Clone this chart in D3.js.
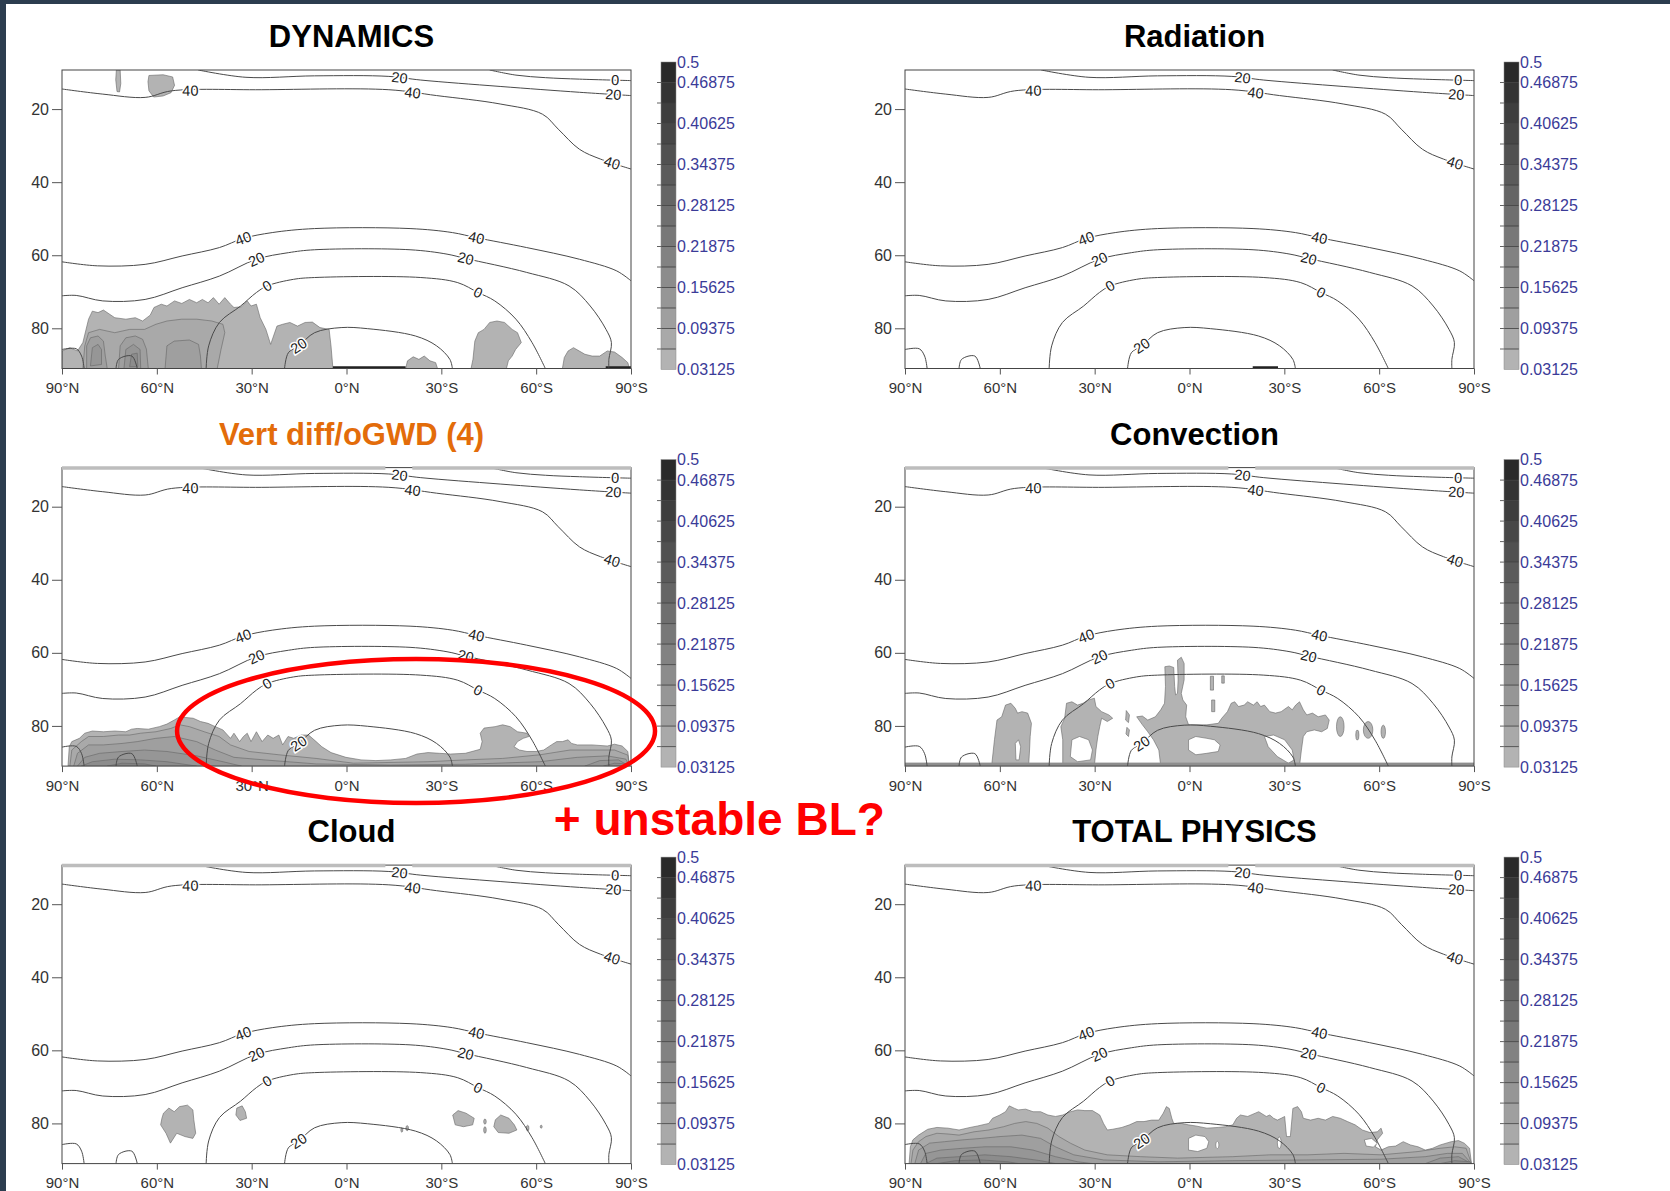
<!DOCTYPE html>
<html>
<head>
<meta charset="utf-8">
<script src="https://cdnjs.cloudflare.com/ajax/libs/d3/7.8.5/d3.min.js"></script>
<style>
  body { margin: 0; background: #fff; }
  svg { display: block; }
</style>
</head>
<body>
<svg id="chart" width="1670" height="1191"></svg>
<script>
// ---- data (lat in degrees, model level) ----
const panelTitles = ["DYNAMICS", "Radiation", "Vert diff/oGWD (4)", "Convection", "Cloud", "TOTAL PHYSICS"];
const latTicks = [90, 60, 30, 0, -30, -60, -90];
const latTickLabels = ["90°N", "60°N", "30°N", "0°N", "30°S", "60°S", "90°S"];
const levelTicks = [20, 40, 60, 80];
const levelDomain = [9.3, 91];
const cbarLevels = [0.03125, 0.0625, 0.09375, 0.125, 0.15625, 0.1875, 0.21875, 0.25,
                    0.28125, 0.3125, 0.34375, 0.375, 0.40625, 0.4375, 0.46875, 0.5];
const cbarLabels = ["0.5", "0.46875", "0.40625", "0.34375", "0.28125", "0.21875", "0.15625", "0.09375", "0.03125"];

// background wind contours, same in every panel
const lineTop0 = [[-45.3, 9.3], [-53.6, 10.7], [-63, 11.4], [-73.7, 11.8], [-90, 12.2]];
const lineTop20 = [[46.9, 9.3], [31.8, 11.3], [10.1, 10.9], [-13.4, 11.05], [-23.5, 12.05], [-48.6, 13.8], [-73.7, 15.4], [-90, 16.3]];
const lineTop40 = [[90, 14.5], [77.1, 15.9], [63.7, 16.8], [55.3, 15.0], [26.8, 14.7], [-13.4, 14.7], [-28.5, 16.3], [-48.6, 18.6],
                   [-62, 21.4], [-67, 25.5], [-73.7, 31], [-80.4, 33.7], [-90, 36.4]];
const lineLow40 = [[90, 61.8], [78.8, 62.9], [63.7, 62.5], [52, 60.2], [40.2, 57.9], [32.7, 55.4], [23.5, 53.8], [10.1, 52.7],
                   [-20.1, 52.7], [-33.5, 53.8], [-41.1, 55.2], [-57, 57.9], [-73.7, 61.1], [-85.5, 64.3], [-90, 67]];
const lineLow20 = [[90, 71.1], [85.5, 71], [77.1, 72.5], [63.7, 72.1], [52, 68.9], [40.2, 65.7], [28.5, 61.1], [18.4, 59.3], [10.1, 58.5],
                   [-20.1, 58.5], [-31.8, 59.7], [-37.7, 60.9], [-57, 64.7], [-70.4, 68.4], [-77.1, 73.9], [-82.1, 80.3], [-83.8, 83.9],
                   [-83, 88.5], [-83, 91]];
const lineLow0 = [[44.4, 91], [43.6, 84.8], [40.2, 78.4], [33.5, 73.9], [28.5, 70.2], [25.1, 68.4], [16.8, 66.6], [10.1, 66.1],
                  [-23.5, 66.1], [-35.2, 67.5], [-41.6, 70.2], [-46.9, 72.5], [-53.6, 77.5], [-58.7, 83.9], [-62.9, 91]];
const lineInner20 = [[19.6, 91], [18.4, 86.7], [15.1, 84.8], [10.1, 81.2], [1.7, 79.8], [-6.7, 80.1], [-21.8, 82.1], [-28.5, 84.8],
                     [-32.7, 88.5], [-33.5, 91]];
const lineBumpA = [[90, 85.8], [85.5, 85.6], [83.8, 87.6], [83, 91]];
const lineBumpB = [[72.9, 91], [72.1, 88.5], [67.9, 87.6], [66.2, 91]];
// [line index, lat, text]
const contourLabels = [[0, -85, "0"], [1, -16.8, "20"], [1, -84.4, "20"], [2, 49.4, "40"], [2, -20.9, "40"], [2, -84, "40"],
                       [3, 32.7, "40"], [3, -41.1, "40"], [4, 28.5, "20"], [4, -37.7, "20"], [5, 25.1, "0"], [5, -41.6, "0"],
                       [6, 15.1, "20"]];

// shaded areas: [band (-1 = clear), outline]
const dynamicsShading = [
  [0, [[90, 91], [90, 86.2], [87.5, 85.3], [85.1, 86.2], [83.4, 83.9], [81.6, 77.5], [80.4, 75.3], [78.6, 75.7], [76.9, 75.0], [73.3, 77.1],
       [69.8, 77.5], [66.8, 77.1], [64.5, 78.0], [62.1, 76.4], [60.9, 74.3], [58.6, 73.4], [56.8, 73.9], [54.4, 72.5], [52.1, 73.2],
       [49.7, 72.1], [47.4, 73.0], [45.6, 72.1], [43.8, 73.0], [42.1, 71.6], [40.3, 73.4], [38.5, 71.6], [36.7, 73.4], [35.6, 74.3],
       [33.2, 74.1], [31.4, 72.5], [30.2, 73.9], [28.5, 73.4], [27.3, 77.1], [25.5, 80.3], [24.0, 84.4], [22.0, 79.4], [20.2, 78.9],
       [17.9, 78.4], [15.5, 79.4], [13.1, 78.4], [10.8, 78.3], [8.4, 79.8], [5.5, 80.3], [4.9, 84.8], [4.3, 91]]],
  [0, [[-18.7, 91], [-19.3, 88.9], [-21.1, 87.8], [-22.9, 88.5], [-24.6, 87.6], [-26.4, 88.9], [-28.2, 89.4], [-28.8, 91]]],
  [0, [[-39.4, 91], [-40.0, 88.5], [-40.6, 83.5], [-41.7, 81.2], [-43.5, 80.3], [-45.3, 78.4], [-47.6, 78.0], [-50.0, 78.4],
       [-52.4, 80.3], [-54.1, 81.2], [-55.3, 83.9], [-53.5, 85.8], [-52.4, 87.6], [-51.2, 88.9], [-50.6, 91]]],
  [0, [[-68.3, 91], [-68.9, 88.0], [-70.1, 86.2], [-71.8, 85.3], [-73.0, 85.9], [-75.4, 87.1], [-77.7, 87.6], [-80.1, 87.6],
       [-82.5, 86.2], [-84.8, 86.5], [-87.2, 88.0], [-89.0, 89.4], [-89.5, 91]]],
  [0, [[62.5, 10.8], [58, 10.6], [55, 11.2], [54.4, 13.5], [55.5, 15.5], [58, 16.4], [61, 16.7], [62.5, 15], [62.8, 12.5]]],
  [0, [[72.8, 9.3], [71.6, 9.3], [71.4, 13], [71.8, 15.3], [72.6, 15.2], [73.0, 12]]],
  [1, [[83.4, 91], [82.8, 84.8], [81.6, 81.2], [78.1, 80.3], [73.3, 81.2], [68.6, 80.3], [63.9, 80.3], [60.3, 78.9], [56.8, 78.0],
       [52.1, 77.5], [47.4, 77.5], [42.6, 78.0], [39.1, 78.9], [38.5, 81.2], [39.7, 85.8], [40.9, 91]]],
  [2, [[82.2, 91], [82.2, 84.8], [81.0, 82.6], [78.6, 82.1], [76.9, 83.5], [76.3, 87.6], [75.7, 91]]],
  [2, [[72.1, 91], [71.6, 84.8], [69.8, 82.6], [66.8, 82.1], [64.5, 83.0], [63.3, 85.7], [62.7, 91]]],
  [2, [[57.4, 91], [56.8, 84.8], [54.5, 83.5], [49.7, 83.2], [46.8, 84.4], [46.2, 87.6], [45.9, 91]]],
  [3, [[81.0, 90.3], [80.4, 85.3], [78.6, 84.4], [77.5, 85.8], [77.5, 89.9]]],
  [3, [[70.4, 91], [69.8, 85.8], [67.4, 84.4], [65.3, 85.8], [65.1, 91]]],
  [4, [[68.6, 90.5], [68.0, 87.1], [66.2, 86.8], [66.0, 90.5]]]
];
const dynamicsBottom = [[4.3, -18.7], [-82, -90]];
const radiationBottom = [[-20, -28]];

const vertDiffShading = [
  [0, [[88.1, 91.0], [87.7, 85.7], [86.9, 84.3], [84.5, 83.4], [82.8, 82.0], [80.4, 81.4], [76.9, 81.6], [73.3, 81.4], [69.8, 81.6],
       [68.0, 80.9], [66.2, 80.7], [62.7, 80.9], [59.2, 80.2], [56.8, 79.5], [54.5, 78.4], [52.7, 77.5], [50.9, 77.7], [48.5, 77.9],
       [46.2, 78.8], [43.8, 79.3], [41.5, 80.2], [39.1, 81.1], [36.7, 83.4], [35.6, 82.0], [33.8, 84.3], [32.6, 82.9], [31.4, 82.0],
       [30.2, 84.3], [28.5, 81.6], [26.7, 84.3], [24.9, 82.5], [23.2, 83.4], [21.4, 82.5], [20.2, 85.2], [18.5, 82.9], [16.7, 83.4],
       [14.3, 82.5], [12.0, 82.5], [9.6, 84.3], [7.8, 85.7], [4.9, 87.3], [0.2, 88.6], [-4.6, 89.3], [-9.3, 89.5], [-14.0, 89.3],
       [-18.7, 88.9], [-22.3, 87.7], [-25.8, 87.3], [-29.4, 87.5], [-32.9, 87.7], [-37.6, 87.5], [-42.3, 86.4], [-42.9, 84.3],
       [-42.3, 82.0], [-43.5, 80.6], [-47.0, 80.2], [-49.4, 79.7], [-51.8, 80.2], [-54.1, 81.6], [-57.1, 82.0], [-57.7, 82.9],
       [-55.9, 83.4], [-54.1, 84.3], [-53.0, 85.7], [-54.7, 86.6], [-57.1, 87.0], [-60.0, 87.0], [-62.4, 86.6], [-64.8, 85.2],
       [-66.5, 84.3], [-68.3, 84.3], [-70.1, 83.8], [-71.2, 84.8], [-73.0, 85.2], [-77.7, 85.2], [-82.5, 85.5], [-84.8, 85.0],
       [-87.2, 85.5], [-89.0, 87.0], [-89.5, 91.0]]],
  [1, [[87.5, 91.0], [86.9, 86.6], [83.9, 84.3], [81.6, 82.9], [76.9, 82.9], [72.15, 82.5], [68.6, 82.5], [65.1, 82.0], [60.3, 81.6],
       [55.6, 80.7], [52.7, 79.7], [49.7, 80.2], [45.0, 81.6], [40.3, 82.9], [36.7, 85.2], [30.8, 87.0], [21.4, 87.9], [9.6, 88.9],
       [-2.2, 90.2], [-25.8, 89.8], [-37.6, 89.3], [-49.4, 88.9], [-61.2, 87.9], [-70.7, 86.6], [-77.7, 86.6], [-84.8, 86.6],
       [-89.0, 88.0], [-89.5, 91.0]]],
  [2, [[86.3, 91], [85.1, 87.5], [81.6, 85.2], [76.9, 85.2], [71.0, 84.8], [66.2, 84.3], [60.3, 83.4], [54.5, 82.9], [47.4, 84.3],
       [41.5, 86.6], [35.6, 88.6], [26.1, 89.3], [9.6, 90.4], [-14.0, 90.7], [-37.6, 90.5], [-61.2, 89.8], [-73.0, 88.6],
       [-82.5, 88.2], [-88.4, 89.1], [-89.5, 91]]],
  [3, [[85.1, 91], [82.8, 88.6], [78.1, 87.5], [71.0, 87.0], [63.9, 86.6], [56.8, 87.0], [47.4, 88.2], [39.1, 89.8], [33.2, 91]]],
  [3, [[-75.4, 91], [-80.1, 89.5], [-86.0, 89.3], [-89.5, 91]]],
  [4, [[83.9, 91], [80.4, 89.8], [73.3, 89.1], [65.1, 89.3], [56.8, 89.8], [47.4, 91]]],
  [4, [[-81.3, 91], [-84.8, 90.2], [-88.4, 90.4], [-89.5, 91]]],
  [5, [[75.7, 91], [71.0, 90.2], [63.9, 90.4], [60.3, 91]]]
];

const convectionShading = [
  [0, [[62.6, 91.0], [61.7, 83.8], [60.9, 78.4], [59.4, 77.5], [58.2, 74.3], [56.5, 73.8], [55.1, 75.2], [54.4, 76.5], [53.0, 76.1],
       [51.2, 76.5], [50.0, 79.3], [50.4, 82.9], [50.6, 86.6], [50.9, 91.0]]],
  [-1, [[54.9, 89.3], [55.1, 84.8], [54.1, 83.8], [53.4, 85.7], [53.9, 89.3]]],
  [0, [[40.1, 91.0], [40.1, 83.8], [40.7, 80.2], [39.5, 77.9], [38.9, 73.8], [37.2, 73.4], [35.4, 74.3], [33.7, 73.8], [31.9, 72.9],
       [30.1, 72.4], [29.6, 74.7], [27.8, 76.1], [25.5, 77.0], [24.3, 77.9], [26.0, 78.8], [27.8, 77.9], [28.4, 80.2], [29.0, 82.9],
       [29.6, 86.6], [30.1, 91.0]]],
  [-1, [[37.7, 88.4], [37.2, 83.8], [34.8, 82.9], [31.9, 83.8], [30.7, 86.6], [31.3, 89.3], [35.4, 89.8]]],
  [0, [[20.0, 75.8], [19.0, 77.0], [19.3, 79.1], [20.2, 78.4]]],
  [0, [[19.8, 80.4], [19.0, 81.1], [19.3, 82.9], [20.1, 82.2]]],
  [0, [[9.1, 91.0], [9.7, 86.6], [11.4, 83.8], [13.2, 81.6], [14.9, 79.7], [16.7, 77.5], [14.9, 77.3], [13.2, 78.4], [10.8, 77.5],
       [9.1, 75.6], [7.9, 73.8], [7.6, 69.2], [7.8, 63.8], [6.4, 63.6], [5.0, 64.0], [4.7, 69.2], [4.4, 71.5], [3.8, 71.1],
       [3.6, 67.4], [3.8, 62.0], [2.6, 61.2], [1.7, 62.9], [1.7, 67.4], [2.6, 71.1], [2.1, 72.9], [0.9, 74.3], [1.2, 77.5],
       [0.3, 79.7], [-2.0, 79.7], [-5.5, 79.7], [-9.1, 79.3], [-10.2, 77.9], [-12.0, 76.1], [-13.2, 73.8], [-14.3, 73.4],
       [-15.5, 74.7], [-17.3, 74.3], [-18.4, 73.4], [-20.2, 74.3], [-21.4, 73.4], [-22.5, 74.7], [-23.7, 74.3], [-25.4, 76.1],
       [-27.2, 76.5], [-29.0, 76.1], [-31.3, 74.7], [-32.5, 75.6], [-33.6, 74.3], [-34.8, 73.4], [-36.0, 75.6], [-37.1, 77.0],
       [-38.9, 76.5], [-40.7, 77.5], [-43.0, 77.0], [-44.2, 78.4], [-43.6, 80.7], [-41.8, 81.6], [-39.5, 81.1], [-37.1, 81.6],
       [-36.0, 82.9], [-35.4, 86.6], [-34.8, 91.0]]],
  [-1, [[0.3, 83.8], [-2.0, 82.9], [-5.5, 83.4], [-7.9, 83.8], [-9.7, 85.2], [-9.1, 87.0], [-5.5, 87.5], [-2.0, 87.9], [0.3, 86.6]]],
  [-1, [[-23.7, 82.9], [-26.6, 82.5], [-30.1, 83.8], [-32.5, 86.6], [-33.1, 89.3], [-31.3, 90.2], [-27.8, 88.4], [-24.9, 85.7]]],
  [0, [[-6.6, 66.4], [-7.6, 66.4], [-7.6, 70.2], [-6.6, 70.2]]],
  [0, [[-10.2, 66.3], [-11.0, 66.3], [-11.0, 68.3], [-10.2, 68.3]]],
  [0, [[-7.0, 72.9], [-8.0, 72.9], [-8.0, 76.1], [-7.0, 76.1]]]
];
// [lat, level, lat radius, level radius, band]
const convectionSpots = [[-47.7, 80.2, 1.2, 2.7, 0], [-56.5, 81.1, 1.5, 2.3, 0], [-53.1, 82.5, 0.5, 1.4, 0], [-61.3, 81.6, 0.7, 1.8, 0]];

const cloudShading = [
  [0, [[57.9, 77.2], [56.2, 75.8], [54.5, 76.8], [52.8, 75.4], [50.3, 75.0], [48.6, 76.3], [48.3, 79.0], [47.7, 82.7], [48.6, 84.1],
       [51.1, 83.6], [53.7, 82.7], [55.7, 85.4], [57.1, 82.7], [58.8, 80.4], [58.4, 78.6]]],
  [0, [[34.7, 75.8], [33.0, 75.2], [32.0, 76.8], [31.6, 78.6], [33.7, 79.2], [35.0, 77.7]]],
  [0, [[-33.6, 77.7], [-35.3, 76.5], [-37.8, 77.2], [-40.4, 78.6], [-39.9, 80.4], [-37.0, 80.9], [-34.4, 80.4]]],
  [0, [[-47.1, 79.0], [-48.8, 77.7], [-51.4, 78.6], [-53.1, 80.4], [-53.9, 81.8], [-51.4, 82.7], [-48.0, 82.5], [-46.6, 80.9]]]
];
const cloudSpots = [[-43.8, 79.5, 0.4, 0.7, 0], [-43.8, 81.8, 0.4, 0.9, 0], [-57.3, 81.3, 0.4, 0.8, 0], [-61.6, 80.9, 0.3, 0.4, 0],
                    [-19.2, 81.3, 0.4, 0.7, 0], [-17.5, 81.8, 0.3, 0.6, 0]];

const totalShading = [
  [0, [[88.7, 91], [88.3, 86.4], [87.5, 84.5], [85.7, 83.2], [82.8, 81.6], [79.9, 81.1], [76.4, 81.3], [72.9, 81.8], [69.4, 81.1],
       [67.0, 80.7], [63.5, 80.0], [62.3, 78.6], [60.0, 77.7], [58.2, 76.8], [57.0, 75.2], [55.3, 75.9], [54.2, 76.3], [51.8, 76.1],
       [49.5, 76.8], [47.1, 76.8], [44.8, 77.7], [42.4, 78.1], [40.1, 77.7], [37.7, 76.8], [35.4, 76.3], [33.1, 76.5], [30.7, 76.5],
       [28.4, 77.7], [27.2, 80.0], [26.0, 81.8], [24.3, 81.6], [21.4, 81.1], [19.0, 80.4], [16.7, 79.5], [14.4, 79.5], [12.0, 79.1],
       [9.7, 79.1], [8.3, 77.2], [7.3, 75.4], [6.4, 75.9], [5.6, 78.6], [5.0, 80.0], [2.6, 80.0], [0.3, 80.4], [-2.0, 80.7],
       [-5.5, 81.3], [-9.1, 81.1], [-11.4, 80.9], [-13.7, 80.4], [-14.9, 78.6], [-16.1, 77.7], [-18.4, 78.1], [-20.8, 77.2],
       [-21.9, 76.8], [-24.3, 78.1], [-25.4, 77.7], [-26.6, 78.6], [-27.8, 79.1], [-29.0, 78.6], [-30.1, 78.1], [-30.7, 83.6],
       [-31.9, 83.6], [-32.7, 75.9], [-34.2, 75.4], [-35.4, 76.8], [-36.0, 78.6], [-38.3, 79.1], [-40.7, 78.6], [-43.0, 79.1],
       [-45.3, 78.1], [-47.7, 78.6], [-50.0, 79.5], [-52.4, 80.4], [-54.7, 81.8], [-57.1, 82.5], [-59.4, 82.3], [-60.6, 81.3],
       [-61.1, 82.7], [-59.4, 84.5], [-58.8, 86.4], [-60.6, 87.3], [-62.9, 86.4], [-65.2, 86.2], [-67.6, 85.0], [-69.9, 85.9],
       [-72.3, 86.4], [-74.6, 87.3], [-76.9, 86.8], [-79.3, 85.9], [-82.8, 85.0], [-85.1, 84.7], [-86.9, 85.4], [-88.6, 86.8],
       [-89.2, 91]]],
  [-1, [[0.3, 84.1], [-2.0, 83.2], [-4.9, 83.6], [-6.1, 85.0], [-5.5, 86.8], [-2.6, 87.7], [0.3, 87.3]]],
  [-1, [[-55.3, 84.5], [-57.6, 84.1], [-59.4, 85.4], [-58.2, 86.5], [-55.9, 86.2]]],
  [1, [[88.1, 91], [87.5, 87.3], [85.7, 85.0], [83.4, 83.6], [79.9, 82.7], [76.4, 82.9], [72.9, 83.2], [68.2, 82.3], [63.5, 81.8],
       [58.8, 80.9], [55.3, 80.0], [51.8, 79.5], [48.3, 80.0], [44.8, 81.3], [41.3, 83.6], [37.7, 85.4], [33.1, 87.3], [26.0, 88.6],
       [15.5, 89.1], [3.8, 89.5], [-13.7, 89.1], [-25.4, 88.6], [-37.2, 88.6], [-48.9, 88.2], [-60.6, 88.6], [-72.3, 87.7],
       [-79.3, 86.8], [-83.9, 86.4], [-87.5, 86.8], [-89.2, 91]]],
  [2, [[86.9, 91], [85.7, 87.3], [82.2, 85.4], [77.5, 85.0], [71.7, 84.5], [65.8, 84.1], [60.0, 83.6], [53.0, 83.2], [47.1, 84.1],
       [42.4, 86.4], [36.6, 88.6], [27.2, 90.0], [9.7, 90.5], [-13.7, 90.2], [-37.2, 90.0], [-60.6, 89.8], [-74.6, 89.1],
       [-81.6, 88.2], [-86.3, 88.2], [-89.2, 91]]],
  [3, [[85.1, 91], [83.4, 88.2], [78.7, 87.3], [71.7, 86.8], [64.7, 86.4], [56.5, 86.4], [49.5, 87.3], [42.4, 89.1], [35.4, 90.5], [30.7, 91]]],
  [3, [[-74.6, 91], [-79.3, 89.5], [-85.1, 89.1], [-89.2, 91]]],
  [4, [[83.4, 91], [79.9, 89.5], [72.9, 89.1], [64.7, 88.6], [56.5, 89.1], [47.1, 90.2], [42.4, 91]]],
  [4, [[-79.3, 91], [-83.9, 90.2], [-88.6, 90.5], [-89.2, 91]]],
  [5, [[79.9, 91], [74.0, 90.2], [65.8, 90.0], [57.5, 90.5], [54.1, 91]]]
];
const totalSpots = [[-8.8, 85.9, 0.5, 1.0, -1], [-28.4, 85.3, 0.6, 1.6, -1]];

// red annotation, in the Vert diff panel's lat/level frame
const highlightEllipse = [-22, 81.4, 75.6, 19.7];
const highlightText = [-65.6, 109.9, "+ unstable BL?"];

// ---- layout ----
const colLeft = [62, 905];
const rowTop = [70, 467.6, 865.1];
const plotW = 569, plotH = 298.5;
const cbGap = 30, cbW = 15;
const font = "Liberation Sans, Arial, sans-serif";

const svg = d3.select("#chart");
svg.append("rect").attr("width", 1670).attr("height", 1191).attr("fill", "#fff");
svg.append("rect").attr("width", 1670).attr("height", 4).attr("fill", "#2c3d4f");
svg.append("rect").attr("width", 6).attr("height", 1191).attr("fill", "#2c3d4f");

const bandColor = d3.scaleLinear().domain([0, cbarLevels.length - 2]).range(["#b3b3b3", "#2a2a2a"]);
const contourLines = [lineTop0, lineTop20, lineTop40, lineLow40, lineLow20, lineLow0, lineInner20, lineBumpA, lineBumpB];

const panels = [
  { shading: dynamicsShading, spots: [], bottom: dynamicsBottom },
  { shading: [], spots: [], bottom: radiationBottom },
  { shading: vertDiffShading, spots: [], bottom: [] },
  { shading: convectionShading, spots: convectionSpots, bottom: [], band: true },
  { shading: cloudShading, spots: cloudSpots, bottom: [] },
  { shading: totalShading, spots: totalSpots, bottom: [] }
];

const fill = b => b < 0 ? "#fff" : bandColor(b);

panels.forEach((p, i) => {
  const col = i % 2, row = Math.floor(i / 2);
  const top = rowTop[row];
  const x = d3.scaleLinear().domain([90, -90]).range([0, plotW]);
  const y = d3.scaleLinear().domain(levelDomain).range([0, plotH]);
  const g = svg.append("g").attr("transform", `translate(${colLeft[col]},${top})`);

  g.append("clipPath").attr("id", "clip" + i)
    .append("rect").attr("width", plotW).attr("height", plotH);
  const plot = g.append("g").attr("clip-path", `url(#clip${i})`);

  const poly = d3.line().x(d => x(d[0])).y(d => y(d[1])).curve(d3.curveLinearClosed);
  plot.selectAll(".shade").data(p.shading).join("path")
    .attr("class", "shade")
    .attr("d", d => poly(d[1]))
    .attr("fill", d => fill(d[0]))
    .attr("stroke", "#666").attr("stroke-width", 0.6)
    .attr("stroke-linejoin", "round");

  plot.selectAll(".spot").data(p.spots).join("ellipse")
    .attr("class", "spot")
    .attr("cx", d => x(d[0])).attr("cy", d => y(d[1]))
    .attr("rx", d => Math.abs(x(d[0] + d[2]) - x(d[0])))
    .attr("ry", d => y(d[1] + d[3]) - y(d[1]))
    .attr("fill", d => fill(d[4]))
    .attr("stroke", "#666").attr("stroke-width", 0.6);

  if (p.band) {
    plot.append("rect").attr("x", 0).attr("y", plotH - 3.5)
      .attr("width", plotW).attr("height", 3.5).attr("fill", "#8e8e8e");
  }
  plot.selectAll(".btm").data(p.bottom).join("line")
    .attr("class", "btm")
    .attr("x1", d => x(d[0])).attr("x2", d => x(d[1]))
    .attr("y1", plotH - 1).attr("y2", plotH - 1)
    .attr("stroke", "#222").attr("stroke-width", 2.5);

  // wind contours
  const curve = d3.line().x(d => x(d[0])).y(d => y(d[1])).curve(d3.curveCatmullRom);
  plot.selectAll(".cline").data(contourLines).join("path")
    .attr("class", "cline")
    .attr("d", curve)
    .attr("fill", "none").attr("stroke", "#4a4a4a").attr("stroke-width", 1);

  contourLabels.forEach(([li, lat, txt]) => {
    const pts = contourLines[li];
    const tx = x(lat);
    for (let k = 0; k < pts.length - 1; k++) {
      const xa = x(pts[k][0]), xb = x(pts[k + 1][0]);
      if (xa === xb || (tx - xa) * (tx - xb) > 0) continue;
      const ya = y(pts[k][1]), yb = y(pts[k + 1][1]);
      const t = (tx - xa) / (xb - xa);
      let ang = Math.atan2(yb - ya, xb - xa) * 180 / Math.PI;
      if (ang > 90) ang -= 180;
      if (ang < -90) ang += 180;
      plot.append("text")
        .attr("transform", `translate(${tx},${ya + t * (yb - ya)}) rotate(${ang})`)
        .attr("text-anchor", "middle").attr("dy", "0.35em")
        .attr("font-family", font).attr("font-size", 14.5)
        .attr("fill", "#222")
        .attr("stroke", "#fff").attr("stroke-width", 3).attr("paint-order", "stroke")
        .text(txt);
      break;
    }
  });

  // frame
  g.append("rect").attr("width", plotW).attr("height", plotH)
    .attr("fill", "none").attr("stroke", "#444").attr("stroke-width", 1);
  if (row > 0) {
    g.selectAll(".topband").data([[90, -12.3], [-20.8, -90]]).join("line")
      .attr("x1", d => x(d[0])).attr("x2", d => x(d[1]))
      .attr("y1", 0.5).attr("y2", 0.5)
      .attr("stroke", "#bdbdbd").attr("stroke-width", 3.5);
  }

  // axes
  const yAxis = g.append("g")
    .call(d3.axisLeft(y).tickValues(levelTicks).tickSize(10).tickPadding(3));
  const xAxis = g.append("g").attr("transform", `translate(0,${plotH})`)
    .call(d3.axisBottom(x).tickValues(latTicks).tickFormat((d, k) => latTickLabels[k]).tickSize(6).tickPadding(8));
  yAxis.selectAll("text").attr("font-size", 16);
  xAxis.selectAll("text").attr("font-size", 15);
  [yAxis, xAxis].forEach(a => {
    a.select(".domain").remove();
    a.selectAll("line").attr("stroke", "#555");
    a.selectAll("text").attr("font-family", font).attr("fill", "#333");
  });

  // colour bar
  const cbx = plotW + cbGap;
  const cy = d3.scaleLinear().domain([cbarLevels[0], cbarLevels[cbarLevels.length - 1]]).range([plotH + 1, -8]);
  const cb = g.append("g").attr("transform", `translate(${cbx},0)`);
  cb.selectAll("rect").data(d3.pairs(cbarLevels)).join("rect")
    .attr("x", 0).attr("width", cbW)
    .attr("y", d => cy(d[1])).attr("height", d => cy(d[0]) - cy(d[1]))
    .attr("fill", (d, k) => bandColor(k));
  cb.selectAll(".sep").data(cbarLevels.slice(1, -1)).join("line")
    .attr("class", "sep")
    .attr("x1", -4).attr("x2", cbW)
    .attr("y1", d => cy(d)).attr("y2", d => cy(d))
    .attr("stroke", "#3a3a3a").attr("stroke-width", 0.8);
  cb.append("rect").attr("x", 0).attr("y", cy.range()[1]).attr("width", cbW)
    .attr("height", cy.range()[0] - cy.range()[1])
    .attr("fill", "none").attr("stroke", "#888").attr("stroke-width", 0.5);
  cb.selectAll(".cbl").data(cbarLabels).join("text")
    .attr("class", "cbl")
    .attr("x", cbW + 1).attr("y", d => cy(+d)).attr("dy", "0.35em")
    .attr("font-family", font).attr("font-size", 16)
    .attr("fill", "#3b3b98")
    .text(d => d);

  // title
  g.append("text")
    .attr("x", plotW / 2 + 5).attr("y", -23)
    .attr("text-anchor", "middle")
    .attr("font-family", font).attr("font-weight", "bold").attr("font-size", 31)
    .attr("fill", i === 2 ? "#e36c0a" : "#000")
    .text(panelTitles[i]);

  if (i === 2) {
    const [lat, lev, rl, rv] = highlightEllipse;
    g.append("ellipse")
      .attr("cx", x(lat)).attr("cy", y(lev))
      .attr("rx", Math.abs(x(lat + rl) - x(lat))).attr("ry", y(lev + rv) - y(lev))
      .attr("fill", "none").attr("stroke", "#f00").attr("stroke-width", 4.5);
    g.append("text")
      .attr("x", x(highlightText[0])).attr("y", y(highlightText[1]))
      .attr("font-family", font).attr("font-weight", "bold").attr("font-size", 46)
      .attr("fill", "#f00")
      .text(highlightText[2]);
  }
});
</script>
</body>
</html>
